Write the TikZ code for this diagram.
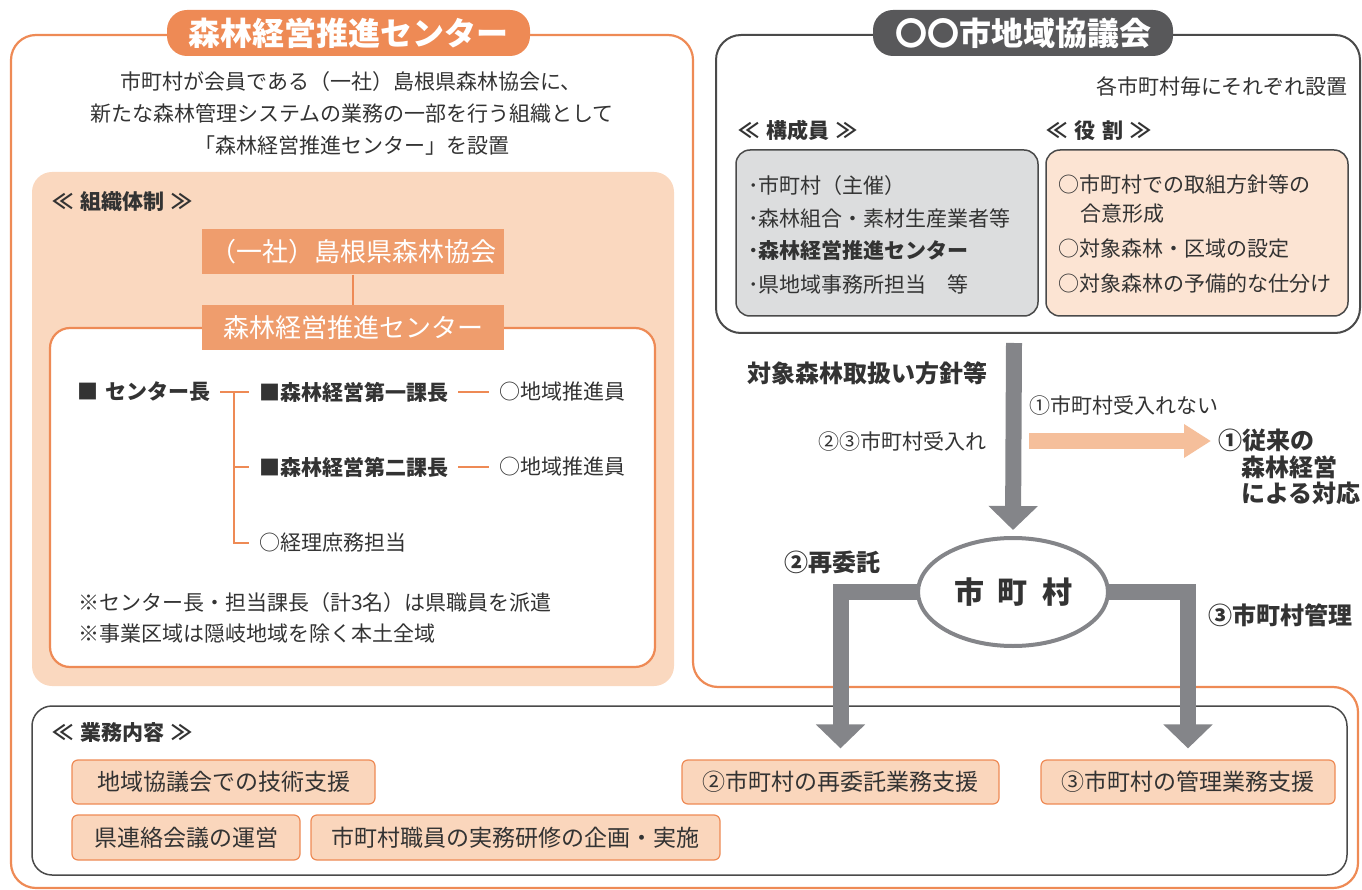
\documentclass[tikz,border=0pt]{standalone}
\usepackage{fontspec}
\setmainfont{Noto Sans CJK JP}
\usetikzlibrary{shapes.geometric,arrows.meta}
\definecolor{orangeL}{HTML}{EE8A55}
\definecolor{orgbox}{HTML}{EF9D6D}
\definecolor{peachbg}{HTML}{FAD8BF}
\definecolor{peachbox}{HTML}{FAD6BC}
\definecolor{roleBg}{HTML}{FCE4D3}
\definecolor{memBg}{HTML}{DCDDDE}
\definecolor{darkT}{HTML}{58585A}
\definecolor{darkL}{HTML}{4A4A4A}
\definecolor{arrowG}{HTML}{848589}
\definecolor{peachA}{HTML}{F5BF9B}
\definecolor{txtC}{HTML}{333333}
\newcommand{\gsp}{\hspace{7pt}}
\tikzset{
  fa/.style={font=\fontsize{21pt}{25pt}\selectfont},
  fab/.style={font=\fontsize{21pt}{25pt}\selectfont\bfseries},
  fb/.style={font=\fontsize{24pt}{28pt}\selectfont\bfseries},
  lbl/.style={inner sep=0pt, text=txtC, anchor=west},
  pill/.style={rounded corners=20pt, minimum height=46pt, inner sep=0pt,
    font=\fontsize{32pt}{36pt}\selectfont\bfseries, text=white},
  orgnode/.style={fill=orgbox, minimum width=302pt, minimum height=45pt, inner sep=0pt,
    font=\fontsize{26pt}{30pt}\selectfont, text=white},
  orgline/.style={draw=orangeL, line width=1.5pt},
  taskbox/.style={draw=orangeL, fill=peachbox, line width=1.2pt, rounded corners=6pt,
    font=\fontsize{23pt}{27pt}\selectfont, text=txtC, inner sep=0pt},
  garrow/.style={draw=arrowG, line width=16pt, line join=miter,
    -{Triangle[width=48pt,length=24pt]}},
  parrow/.style={draw=peachA, line width=16pt, -{Triangle[width=32pt,length=27pt]}},
}
\begin{document}
\begin{tikzpicture}[x=1pt,y=-1pt]
\useasboundingbox (0,0) rectangle (1362,890);
% outlines
\draw[orangeL, line width=2.2pt, rounded corners=25pt]
  (11,400) -- (11,35) -- (693,35) -- (693,687) -- (1358,687) -- (1358,888) -- (11,888) -- cycle;
\draw[darkL, line width=2pt, rounded corners=25pt] (716,35) rectangle (1360,333);
% titles
\node[pill, fill=orangeL, minimum width=363pt] (t1) at (348.5,33) {森林経営推進センター};
\node[pill, fill=darkT, minimum width=300pt] (t2) at (1023,33) {〇〇市地域協議会};
% left intro
\node[fa, lbl, anchor=center] (p1) at (351,82) {市町村が会員である（一社）島根県森林協会に、};
\node[fa, lbl, anchor=center] (p2) at (352,114) {新たな森林管理システムの業務の一部を行う組織として};
\node[fa, lbl, anchor=center] (p3) at (352,146) {「森林経営推進センター」を設置};
% org panel
\fill[peachbg, rounded corners=20pt] (32,172) rectangle (674,686);
\node[fab, lbl] (soshiki) at (52,202) {≪\gsp 組織体制\gsp ≫};
\draw[orangeL, line width=2.2pt, fill=white, rounded corners=20pt] (50,328) rectangle (655,667);
\node[orgnode] (kyokai) at (353,252) {（一社）島根県森林協会};
\node[orgnode] (center) at (353,328) {森林経営推進センター};
\draw[orgline, line width=2pt] (kyokai) -- (center);
\node[fab, lbl] (chief) at (77,392) {■\gsp センター長};
\node[fab, lbl] (k1) at (259,392) {■森林経営第一課長};
\node[fab, lbl] (k2) at (259,467) {■森林経営第二課長};
\node[fa, lbl] (keiri) at (259,543) {○経理庶務担当};
\node[fa, lbl] (s1) at (499,392) {○地域推進員};
\node[fa, lbl] (s2) at (499,467) {○地域推進員};
\coordinate (trunk) at (234,392);
\draw[orgline] ([xshift=10pt]chief.east) -- ([xshift=-10pt]k1.west);
\draw[orgline] (trunk) |- ([xshift=-10pt]keiri.west);
\draw[orgline] (trunk |- k2.west) -- ([xshift=-10pt]k2.west);
\draw[orgline] ([xshift=10pt]k1.east) -- ([xshift=-10pt]s1.west);
\draw[orgline] ([xshift=10pt]k2.east) -- ([xshift=-10pt]s2.west);
\node[fa, lbl] (n1) at (78,603) {※センター長・担当課長（計3名）は県職員を派遣};
\node[fa, lbl] (n2) at (78,634) {※事業区域は隠岐地域を除く本土全域};
% council
\node[fa, lbl, anchor=east] (each) at (1348,86) {各市町村毎にそれぞれ設置};
\node[fab, lbl] (memT) at (738,131) {≪\gsp 構成員\gsp ≫};
\node[fab, lbl] (roleT) at (1046,131) {≪\gsp 役\gsp 割\gsp ≫};
\node[draw=darkL, fill=memBg, line width=1.5pt, rounded corners=14pt, minimum width=302pt, minimum height=166pt, inner sep=0pt] (mem) at (887,233) {};
\node[draw=darkL, fill=roleBg, line width=1.5pt, rounded corners=14pt, minimum width=302pt, minimum height=166pt, inner sep=0pt] (role) at (1197,233) {};
\node[fa, lbl] (m1) at (748,186) {･市町村（主催）};
\node[fa, lbl] (m2) at (748,218) {･森林組合・素材生産業者等};
\node[fab, lbl] (m3) at (748,251) {･森林経営推進センター};
\node[fa, lbl] (m4) at (748,285) {･県地域事務所担当　等};
\node[fa, lbl] (r1) at (1058,185) {○市町村での取組方針等の};
\node[fa, lbl] (r1b) at (1080,214) {合意形成};
\node[fa, lbl] (r2) at (1058,249) {○対象森林・区域の設定};
\node[fa, lbl] (r3) at (1058,284) {○対象森林の予備的な仕分け};
% flow labels
\node[fb, lbl] (hoshin) at (747,373) {対象森林取扱い方針等};
\node[fa, lbl] (no) at (1029,406) {①市町村受入れない};
\node[fa, lbl, anchor=east] (yes) at (987,442) {②③市町村受入れ};
\node[fb, lbl] (c1) at (1218,440) {①従来の};
\node[fb, lbl] (c2) at (1241,467) {森林経営};
\node[fb, lbl] (c3) at (1241,493) {による対応};
\node[fb, lbl] (saiitaku) at (784,562) {②再委託};
\node[fb, lbl] (kanri) at (1208,615) {③市町村管理};
% bottom business box
\draw[darkL, line width=1.5pt, rounded corners=20pt] (32,706) rectangle (1347,875);
\node[fab, lbl] (gyomu) at (52,733) {≪\gsp 業務内容\gsp ≫};
\node[taskbox, minimum width=303pt, minimum height=44pt] (task1) at (223.5,782) {地域協議会での技術支援};
\node[taskbox, minimum width=317pt, minimum height=44pt] (task2) at (840.5,782) {②市町村の再委託業務支援};
\node[taskbox, minimum width=294pt, minimum height=44pt] (task3) at (1188,782) {③市町村の管理業務支援};
\node[taskbox, minimum width=228pt, minimum height=45pt] (task4) at (186,837.5) {県連絡会議の運営};
\node[taskbox, minimum width=409pt, minimum height=45pt] (task5) at (515.5,837.5) {市町村職員の実務研修の企画・実施};
% arrows
\node[ellipse, draw=arrowG, line width=4pt, fill=white, minimum width=190pt, minimum height=108pt,
  inner sep=0pt, font=\fontsize{30pt}{34pt}\selectfont\bfseries, text=txtC] (mura) at (1013,592) {市\hspace{14pt}町\hspace{14pt}村};
\coordinate (a0) at (1014,343);
\draw[garrow] (a0) -- ([yshift=6pt]mura.north);
\draw[garrow] ([xshift=2pt]mura.west) -| ([yshift=11pt]task2.north);
\draw[garrow] ([xshift=-2pt]mura.east) -| ([yshift=11pt]task3.north);
\coordinate (p0) at (1029,441);
\coordinate (pe) at (1211,441);
\draw[parrow] (p0) -- (pe);
\end{tikzpicture}
\end{document}
